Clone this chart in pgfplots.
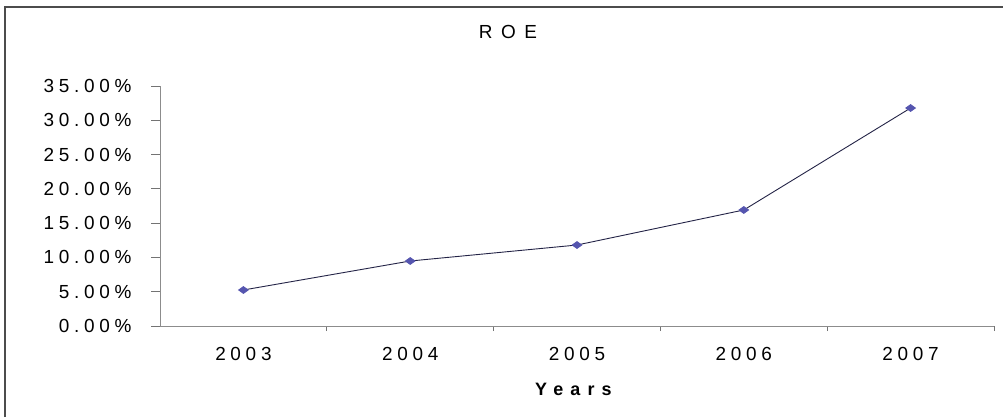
\documentclass[border=0pt]{standalone}
\usepackage{fontspec}
\setmainfont{Liberation Sans}[LetterSpace=25]
\newfontfamily\widefont{Liberation Sans}[LetterSpace=45]
\usepackage{pgfplots}
\pgfplotsset{compat=1.18}
\definecolor{markc}{RGB}{85,85,175}
\definecolor{linec}{RGB}{35,35,70}
\begin{document}
\begin{tikzpicture}[x=1bp,y=1bp]
\useasboundingbox (0,0) rectangle (1003,417);
\draw[line width=1.2bp, black!70] (5,0) -- (5,410) -- (1003,410);
\node[font=\widefont\fontsize{19}{22}\selectfont, inner sep=0pt] at (508,385) {ROE};
\begin{axis}[
  at={(160bp,91bp)}, anchor=south west,
  scale only axis, width=834bp, height=240bp,
  xmin=0.5, xmax=5.5, ymin=0, ymax=0.35,
  axis x line*=bottom, axis y line*=left,
  axis line style={black!45, line width=0.9bp},
  xtick={1,2,3,4,5},
  xticklabels={2003,2004,2005,2006,2007},
  minor xtick={1.5,2.5,3.5,4.5,5.5},
  every major x tick/.append style={draw=none},
  every minor x tick/.append style={black!55, line width=0.8bp},
  every major y tick/.append style={black!55, line width=0.8bp},
  tick align=outside,
  major tick length=9bp, minor tick length=5bp,
  ytick={0,0.05,0.1,0.15,0.2,0.25,0.3,0.35},
  yticklabels={0.00\%,5.00\%,10.00\%,15.00\%,20.00\%,25.00\%,30.00\%,35.00\%},
  ticklabel style={font=\fontsize{19}{22}\selectfont},
  yticklabel style={anchor=east, xshift=-16bp},
  xticklabel style={anchor=center, yshift=-19bp},
  xlabel={\textbf{\addfontfeatures{LetterSpace=40}Years}},
  xlabel style={font=\fontsize{18}{21}\selectfont, anchor=center, at={(axis description cs:0.5,0)}, yshift=-63bp},
  clip=false,
]
\addplot[linec, line width=0.9bp, mark=diamond*, mark size=4.5bp,
  mark options={markc, fill=markc, draw=markc, xscale=1.4, yscale=0.75}]
  coordinates {(1,0.0525) (2,0.0948) (3,0.1181) (4,0.1692) (5,0.3179)};
\end{axis}
\end{tikzpicture}
\end{document}
